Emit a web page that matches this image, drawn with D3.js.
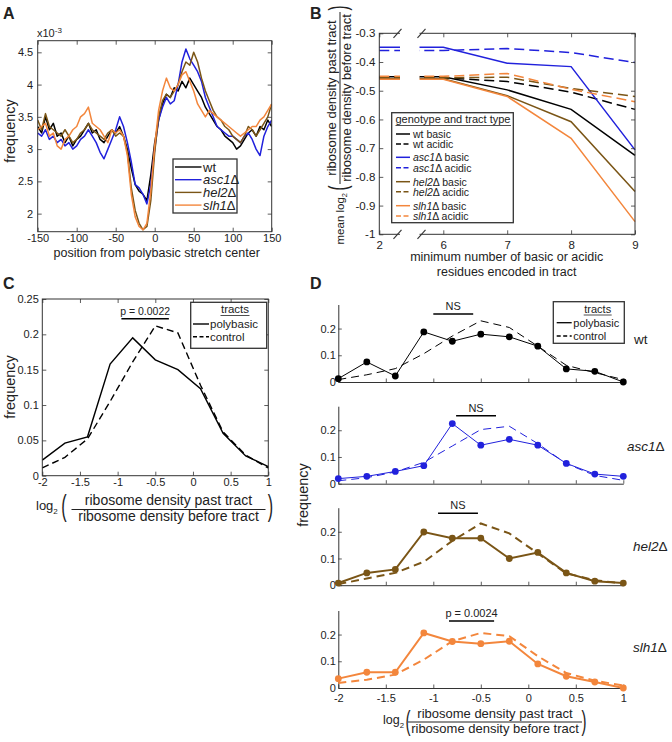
<!DOCTYPE html>
<html>
<head>
<meta charset="utf-8">
<script src="https://cdn.jsdelivr.net/npm/d3@7/dist/d3.min.js"></script>
<style>
html,body{margin:0;padding:0;background:#fff;}
svg{display:block;}
text{font-family:"Liberation Sans",Arial,Helvetica,sans-serif;fill:#222;}
</style>
</head>
<body>
<svg id="fig" width="672" height="742" xmlns="http://www.w3.org/2000/svg"></svg>
<script>
// ================= DATA =================
// Panel A: frequency (x10^-3) vs position from polybasic stretch center
const posA = d3.range(-150, 151, 5);
const freqWt   = [3.35,3.25,3.5,3.3,3.4,3.2,3.25,3.1,3.2,3.05, 3.15,3.2,3.3,3.4,3.25,3.3,3.15,3.1,3.2,3.3, 3.25,3.35,3.2,3.0,2.7,2.45,2.35,2.3,2.2,2.6, 3.1,3.45,3.7,3.85,3.8,3.95,3.9,4.05,3.95,4.1, 4.0,3.9,3.8,3.65,3.55,3.45,3.35,3.3,3.2,3.15, 3.1,3.0,3.05,3.15,3.25,3.3,3.2,3.35,3.3,3.45, 3.35];
const freqAsc1 = [3.25,3.2,3.3,3.15,3.2,3.1,3.15,3.05,3.1,3.0, 3.05,3.15,3.2,3.3,3.2,3.1,2.95,2.85,3.0,3.15, 3.3,3.5,3.35,3.1,2.8,2.45,2.4,2.3,2.15,2.45, 3.0,3.45,3.65,3.8,3.7,3.75,4.0,4.35,4.55,4.4, 4.3,4.2,4.05,3.8,3.65,3.5,3.35,3.3,3.25,3.2, 3.2,3.15,3.1,3.2,3.25,3.15,3.0,2.9,3.2,3.35, 3.45];
const freqHel2 = [3.45,3.3,3.55,3.35,3.3,3.25,3.2,3.3,3.2,3.1, 3.15,3.25,3.3,3.4,3.3,3.25,3.2,3.15,3.25,3.3, 3.2,3.25,3.2,2.95,2.4,2.05,1.85,1.75,1.8,2.2, 2.95,3.5,3.75,3.85,3.8,3.9,4.0,4.2,4.35,4.3, 4.5,4.35,4.1,3.9,3.75,3.6,3.5,3.45,3.35,3.3, 3.2,3.15,3.1,3.2,3.35,3.3,3.2,3.3,3.4,3.5, 3.7];
const freqSlh1 = [3.3,3.35,3.4,3.2,3.25,3.05,3.0,3.15,3.2,3.3, 3.35,3.5,3.55,3.65,3.4,3.35,3.3,3.2,3.1,3.3, 3.25,3.3,3.2,2.9,2.3,1.95,1.8,1.75,1.85,2.35, 3.05,3.6,3.9,4.1,3.95,3.9,4.0,4.15,4.2,4.05, 3.9,3.7,3.6,3.5,3.6,3.55,3.5,3.45,3.4,3.35, 3.3,3.25,3.2,3.25,3.3,3.35,3.35,3.45,3.5,3.6, 3.7];
const genotypes = ["wt", "asc1", "hel2", "slh1"];
const ticksAx = [-150,-100,-50,0,50,100,150];
const ticksAy = [2,2.5,3,3.5,4,4.5];

// Panel B: mean log2 ratio vs minimum number of residues
const minResidues = [2,6,7,8,9];
const bWtBasic    = [-0.451,-0.451,-0.497,-0.565,-0.725];
const bWtAcidic   = [-0.455,-0.455,-0.468,-0.505,-0.565];
const bAscBasic   = [-0.349,-0.349,-0.404,-0.416,-0.706];
const bAscAcidic  = [-0.360,-0.360,-0.353,-0.367,-0.402];
const bHelBasic   = [-0.458,-0.458,-0.517,-0.608,-0.851];
const bHelAcidic  = [-0.455,-0.455,-0.453,-0.492,-0.520];
const bSlhBasic   = [-0.460,-0.460,-0.520,-0.666,-0.956];
const bSlhAcidic  = [-0.450,-0.450,-0.440,-0.495,-0.538];
const ticksBy = [-0.3,-0.4,-0.5,-0.6,-0.7,-0.8,-0.9,-1];

// Panel C: distribution of log2 ratio
const binsC  = [-2,-1.7,-1.4,-1.1,-0.8,-0.5,-0.2,0.1,0.4,0.7,1.0];
const cPoly  = [0.022,0.046,0.055,0.158,0.195,0.164,0.150,0.123,0.060,0.028,0.013];
const cCtrl  = [0.011,0.026,0.052,0.105,0.161,0.212,0.202,0.128,0.062,0.029,0.011];
const ticksCx = [-2,-1.5,-1,-0.5,0,0.5,1];
const ticksCy = [0,0.05,0.1,0.15,0.2,0.25];
const pC = "p = 0.0022";
const barC = [-0.95,-0.32];

// Panel D: per-genotype distributions
const dWtPoly  = [0.0125,0.075,0.0225,0.1875,0.1525,0.179,0.169,0.134,0.049,0.040,0.0];
const dWtCtrl  = [0.009,0.027,0.050,0.106,0.172,0.229,0.204,0.134,0.0625,0.035,0.009];
const dAscPoly = [0.019,0.0275,0.046,0.0675,0.225,0.144,0.166,0.144,0.076,0.036,0.0275];
const dAscCtrl = [0.011,0.0225,0.044,0.080,0.141,0.2025,0.215,0.150,0.075,0.031,0.0125];
const dHelPoly = [0.008,0.046,0.059,0.199,0.176,0.176,0.100,0.1225,0.046,0.015,0.008];
const dHelCtrl = [0.004,0.025,0.046,0.0875,0.166,0.231,0.194,0.119,0.044,0.019,0.006];
const dSlhPoly = [0.035,0.059,0.059,0.206,0.174,0.166,0.175,0.090,0.044,0.0225,0.0];
const dSlhCtrl = [0.019,0.031,0.050,0.106,0.175,0.206,0.194,0.119,0.056,0.0275,0.009];
const dPtext = ["NS","NS","NS","p = 0.0024"];
const dBars  = [[-1.0,-0.58],[-0.76,-0.34],[-0.95,-0.53],[-0.835,-0.36]];
const ticksDy = [0,0.1,0.2];
const ticksDx = [-2,-1.5,-1,-0.5,0,0.5,1];

// ================= STYLE =================
const COL = {wt:"#000000", asc1:"#2121dc", hel2:"#7a5516", slh1:"#f3863c"};
const AXC = "#333";
const svg = d3.select("#fig");
svg.append("rect").attr("width",672).attr("height",742).attr("fill","#fff");

function txt(g, x, y, s, o={}) {
  const t = g.append("text").attr("x",x).attr("y",y).attr("font-size",o.fs||11)
    .attr("text-anchor",o.anchor||"start");
  if (o.weight) t.attr("font-weight",o.weight);
  if (o.style) t.attr("font-style",o.style);
  if (o.fill) t.style("fill",o.fill);
  if (s !== null) t.text(s);
  return t;
}
function geno(t, name, rest) {
  t.append("tspan").attr("font-style","italic").text(name);
  t.append("tspan").text(rest);
  return t;
}
function styleAxis(sel, fs) {
  sel.attr("font-family",null).attr("font-size",fs);
  sel.selectAll(".domain").remove();
  sel.selectAll(".tick line").attr("stroke",AXC).attr("stroke-width",0.8);
}
const fmt = d => String(d);
function boxAxes(g, x, y, xt, yt, o) {
  const xr = x.range(), yr = y.range();
  const L = xr[0], R = xr[xr.length-1], B = yr[0], T = yr[yr.length-1];
  const tl = o.tl || 4, fs = o.fs || 11;
  const b = g.append("g").attr("transform",`translate(0,${B})`)
    .call(d3.axisBottom(x).tickValues(xt).tickSizeInner(-tl).tickSizeOuter(0).tickPadding(o.xpad).tickFormat(fmt));
  const t = g.append("g").attr("transform",`translate(0,${T})`)
    .call(d3.axisTop(x).tickValues(xt).tickSizeInner(-tl).tickSizeOuter(0).tickFormat(""));
  const l = g.append("g").attr("transform",`translate(${L},0)`)
    .call(d3.axisLeft(y).tickValues(yt).tickSizeInner(-tl).tickSizeOuter(0).tickPadding(o.ypad).tickFormat(fmt));
  const r = g.append("g").attr("transform",`translate(${R},0)`)
    .call(d3.axisRight(y).tickValues(yt).tickSizeInner(-tl).tickSizeOuter(0).tickFormat(""));
  [b,t,l,r].forEach(a => styleAxis(a, fs));
  g.append("rect").attr("x",L).attr("y",T).attr("width",R-L).attr("height",B-T)
    .attr("fill","none").attr("stroke",AXC).attr("stroke-width",1);
  return {L,R,B,T};
}
function bigParen(g, ch, x, yc, h, fs) {
  const k = h / (0.94*fs);
  g.append("text").attr("transform",`translate(${x},${yc}) scale(1.15,${k})`)
    .attr("text-anchor","middle").attr("y",0.258*fs).attr("font-size",fs).text(ch);
}
function log2Label(g, lx, by, fs) {
  const t = g.append("text").attr("x",lx).attr("y",by).attr("font-size",fs);
  t.append("tspan").text("log");
  t.append("tspan").attr("font-size",fs*0.62).attr("dy",fs*0.28).text("2");
  return t;
}
function fraction(g, cx, ly, w, fs, num, den) {
  g.append("text").attr("x",cx).attr("y",ly-4.5).attr("font-size",fs).attr("text-anchor","middle").text(num);
  g.append("line").attr("x1",cx-w/2).attr("x2",cx+w/2).attr("y1",ly).attr("y2",ly)
    .attr("stroke","#222").attr("stroke-width",1);
  g.append("text").attr("x",cx).attr("y",ly+0.83*fs).attr("font-size",fs).attr("text-anchor","middle").text(den);
}
const NUM = "ribosome density past tract", DEN = "ribosome density before tract";

// ================= PANEL A =================
{
  const g = svg.append("g");
  txt(g, 3, 19, "A", {fs:16, weight:"bold"});
  const x = d3.scaleLinear().domain([-150,150]).range([37.7,271.7]);
  const y = d3.scaleLinear().domain([1.72,4.68]).range([231.7,40.7]);
  g.append("clipPath").attr("id","clipA").append("rect")
    .attr("x",37.7).attr("y",40.7).attr("width",234).attr("height",191);
  const line = d3.line().x((d,i)=>x(posA[i])).y(d=>y(d));
  const series = [freqWt, freqAsc1, freqHel2, freqSlh1];
  series.forEach((arr,i) => {
    g.append("path").attr("clip-path","url(#clipA)").attr("d",line(arr))
      .attr("fill","none").attr("stroke",COL[genotypes[i]]).attr("stroke-width",1.5)
      .attr("stroke-linejoin","round");
  });
  boxAxes(g, x, y, ticksAx, ticksAy, {fs:11, xpad:3, ypad:4.5});
  const e = txt(g, 37, 37, null, {fs:11});
  e.append("tspan").text("x10");
  e.append("tspan").attr("font-size",8).attr("dy",-4).text("-3");
  txt(g, 156.7, 257, "position from polybasic stretch center", {fs:12.5, anchor:"middle"});
  txt(g, 0, 0, "frequency", {fs:14.5, anchor:"middle"}).attr("transform","translate(15,131) rotate(-90)");
  // legend
  const lg = g.append("g");
  lg.append("rect").attr("x",173).attr("y",159).attr("width",64).attr("height",54)
    .attr("fill","#fff").attr("stroke",AXC).attr("stroke-width",1.3);
  genotypes.forEach((gn,i) => {
    const cy = 167 + i*12.7;
    lg.append("line").attr("x1",175).attr("x2",201.5).attr("y1",cy).attr("y2",cy)
      .attr("stroke",COL[gn]).attr("stroke-width",1.4);
    const t = txt(lg, 203, cy+4.5, null, {fs:13});
    if (gn === "wt") t.text("wt"); else geno(t, gn, "Δ");
  });
}

// ================= PANEL B =================
{
  const g = svg.append("g");
  txt(g, 310, 19, "B", {fs:16, weight:"bold"});
  const x = d3.scaleLinear().domain([2,6,9]).range([379.3,443.3,635]);
  const y = d3.scaleLinear().domain([-1,-0.3]).range([234.3,33.3]);
  const line = d3.line().x((d,i)=>x(minResidues[i])).y(d=>y(d));
  const defs = [
    [bWtBasic,"wt",false],[bWtAcidic,"wt",true],
    [bAscBasic,"asc1",false],[bAscAcidic,"asc1",true],
    [bHelBasic,"hel2",false],[bHelAcidic,"hel2",true],
    [bSlhBasic,"slh1",false],[bSlhAcidic,"slh1",true]];
  defs.forEach(([arr,gn,dash]) => {
    g.append("path").attr("d",line(arr)).attr("fill","none")
      .attr("stroke",COL[gn]).attr("stroke-width",1.5)
      .attr("stroke-dasharray",dash?"10,5":null);
  });
  const fr = boxAxes(g, x, y, minResidues, ticksBy, {fs:11.5, xpad:7, ypad:4});
  // axis break
  g.append("rect").attr("x",400).attr("y",fr.T-3).attr("width",19.5).attr("height",fr.B-fr.T+6).attr("fill","#fff");
  [fr.T, fr.B].forEach(yy => {
    [397.5, 421.5].forEach(xx => {
      g.append("line").attr("x1",xx-4).attr("x2",xx+4).attr("y1",yy+4.5).attr("y2",yy-4.5)
        .attr("stroke",AXC).attr("stroke-width",1.1);
    });
  });
  txt(g, 506.7, 261, "minimum number of basic or acidic", {fs:12.5, anchor:"middle"});
  txt(g, 506.7, 276, "residues encoded in tract", {fs:12.5, anchor:"middle"});
  // y label (rotated)
  const yl = g.append("g").attr("transform","translate(340,98) rotate(-90)");
  fraction(yl, 0, 0, 172, 13, NUM, DEN);
  bigParen(yl, "(", -90, 0, 24, 13);
  bigParen(yl, ")", 90, 0, 24, 13);
  const ml = yl.append("text").attr("x",-95).attr("y",4).attr("font-size",11.5).attr("text-anchor","end");
  ml.append("tspan").text("mean log");
  ml.append("tspan").attr("font-size",7.5).attr("dy",3).text("2");
  // legend
  const lg = g.append("g");
  lg.append("rect").attr("x",391.7).attr("y",112.7).attr("width",121.6).attr("height",110)
    .attr("fill","#fff").attr("stroke",AXC).attr("stroke-width",1.3);
  txt(lg, 395.5, 123, "genotype and tract type", {fs:11});
  lg.append("line").attr("x1",395.5).attr("x2",511).attr("y1",125.5).attr("y2",125.5).attr("stroke","#222").attr("stroke-width",0.8);
  const ys = [134,144,157.3,167.7,181.7,191.7,205.7,216];
  defs.forEach(([arr,gn,dash],i) => {
    lg.append("line").attr("x1",396).attr("x2",410).attr("y1",ys[i]).attr("y2",ys[i])
      .attr("stroke",COL[gn]).attr("stroke-width",1.5).attr("stroke-dasharray",dash?"5,2.5":null);
    const t = txt(lg, 413, ys[i]+3.8, null, {fs:10.5});
    const kind = dash ? " acidic" : " basic";
    if (gn === "wt") t.text("wt" + kind); else geno(t, gn, "Δ" + kind);
  });
}

// ================= PANEL C =================
{
  const g = svg.append("g");
  txt(g, 3, 289, "C", {fs:16, weight:"bold"});
  const x = d3.scaleLinear().domain([-2,1]).range([42.3,268.3]);
  const y = d3.scaleLinear().domain([0,0.25]).range([475.7,299]);
  const line = d3.line().x((d,i)=>x(binsC[i])).y(d=>y(d));
  g.append("path").attr("d",line(cCtrl)).attr("fill","none").attr("stroke","#000")
    .attr("stroke-width",1.4).attr("stroke-dasharray","7,4");
  g.append("path").attr("d",line(cPoly)).attr("fill","none").attr("stroke","#000").attr("stroke-width",1.4);
  boxAxes(g, x, y, ticksCx, ticksCy, {fs:11, xpad:2, ypad:3.5});
  // significance bar
  g.append("line").attr("x1",x(barC[0])).attr("x2",x(barC[1])).attr("y1",318.7).attr("y2",318.7)
    .attr("stroke","#000").attr("stroke-width",1.5);
  txt(g, (x(barC[0])+x(barC[1]))/2, 314.5, pC, {fs:10.5, anchor:"middle"});
  // legend
  const lg = g.append("g");
  lg.append("rect").attr("x",190.7).attr("y",302.3).attr("width",76).attr("height",46)
    .attr("fill","#fff").attr("stroke",AXC).attr("stroke-width",1.3);
  txt(lg, 235, 313, "tracts", {fs:11.5, anchor:"middle"});
  lg.append("line").attr("x1",220.5).attr("x2",249.5).attr("y1",315.5).attr("y2",315.5).attr("stroke","#222").attr("stroke-width",0.8);
  lg.append("line").attr("x1",193).attr("x2",209).attr("y1",324).attr("y2",324).attr("stroke","#000").attr("stroke-width",1.4);
  lg.append("line").attr("x1",193).attr("x2",209).attr("y1",336.7).attr("y2",336.7).attr("stroke","#000").attr("stroke-width",1.4).attr("stroke-dasharray","4,2.5");
  txt(lg, 210, 328, "polybasic", {fs:11.5});
  txt(lg, 210, 340.8, "control", {fs:11.5});
  txt(g, 0, 0, "frequency", {fs:14.5, anchor:"middle"}).attr("transform","translate(15,387) rotate(-90)");
  // x label
  log2Label(g, 36, 510, 13);
  bigParen(g, "(", 64, 508.5, 28, 14);
  fraction(g, 168.5, 509.5, 194, 14, NUM, DEN);
  bigParen(g, ")", 270.5, 508.5, 28, 14);
}

// ================= PANEL D =================
{
  const g = svg.append("g");
  txt(g, 310, 289, "D", {fs:16, weight:"bold"});
  const x = d3.scaleLinear().domain([-2,1]).range([338.3,623.3]);
  const bases = [382, 483.7, 585.2, 688];
  const polys = [dWtPoly, dAscPoly, dHelPoly, dSlhPoly];
  const ctrls = [dWtCtrl, dAscCtrl, dHelCtrl, dSlhCtrl];
  const lw = [1, 1, 2, 2];
  const labY = [339.3, 446, 546.7, 647.3];
  const labX = [634, 627, 633, 633];
  genotypes.forEach((gn, i) => {
    const y = d3.scaleLinear().domain([0,0.29]).range([bases[i], bases[i]-77.5]);
    const line = d3.line().x((d,j)=>x(binsC[j])).y(d=>y(d));
    // axes
    const ax = g.append("g").attr("transform",`translate(0,${bases[i]})`)
      .call(d3.axisBottom(x).tickValues(ticksDx).tickSizeInner(-3.5).tickSizeOuter(0).tickPadding(6)
        .tickFormat(i===3 ? fmt : ""));
    ax.attr("font-family",null).attr("font-size",11);
    ax.select(".domain").attr("stroke",AXC).attr("stroke-width",1);
    ax.selectAll(".tick line").attr("stroke",AXC).attr("stroke-width",0.8);
    const ay = g.append("g").attr("transform",`translate(338.3,0)`)
      .call(d3.axisLeft(y).tickValues(ticksDy).tickSizeInner(-3.5).tickSizeOuter(0).tickPadding(2.5).tickFormat(fmt));
    ay.attr("font-family",null).attr("font-size",11);
    ay.select(".domain").attr("stroke",AXC).attr("stroke-width",1);
    ay.selectAll(".tick line").attr("stroke",AXC).attr("stroke-width",0.8);
    // lines
    g.append("path").attr("d",line(ctrls[i])).attr("fill","none").attr("stroke",COL[gn])
      .attr("stroke-width",lw[i]).attr("stroke-dasharray","8,5");
    g.append("path").attr("d",line(polys[i])).attr("fill","none").attr("stroke",COL[gn])
      .attr("stroke-width",lw[i]);
    g.selectAll(null).data(polys[i]).enter().append("circle")
      .attr("cx",(d,j)=>x(binsC[j])).attr("cy",d=>y(d)).attr("r",3.4).attr("fill",COL[gn]);
    // significance
    const by = [314, 415.7, 513.3, 621][i];
    g.append("line").attr("x1",x(dBars[i][0])).attr("x2",x(dBars[i][1])).attr("y1",by).attr("y2",by)
      .attr("stroke","#000").attr("stroke-width",1.5);
    txt(g, (x(dBars[i][0])+x(dBars[i][1]))/2, by-4, dPtext[i], {fs:11, anchor:"middle"});
    // genotype label
    const t = txt(g, labX[i], labY[i]+4.5, null, {fs:13.5});
    if (gn === "wt") t.text("wt"); else geno(t, gn, "Δ");
  });
  // legend
  const lg = g.append("g");
  lg.append("rect").attr("x",553.3).attr("y",301.7).attr("width",71).attr("height",41.6)
    .attr("fill","#fff").attr("stroke",AXC).attr("stroke-width",1.3);
  txt(lg, 597.7, 312.5, "tracts", {fs:11, anchor:"middle"});
  lg.append("line").attr("x1",583.7).attr("x2",611.7).attr("y1",315).attr("y2",315).attr("stroke","#222").attr("stroke-width",0.8);
  lg.append("line").attr("x1",556.7).attr("x2",571.7).attr("y1",322.7).attr("y2",322.7).attr("stroke","#000").attr("stroke-width",1.3);
  lg.append("line").attr("x1",556.7).attr("x2",571.7).attr("y1",336).attr("y2",336).attr("stroke","#000").attr("stroke-width",1.3).attr("stroke-dasharray","4,2.5");
  txt(lg, 573.3, 326.5, "polybasic", {fs:11});
  txt(lg, 573.3, 340, "control", {fs:11});
  txt(g, 0, 0, "frequency", {fs:14.5, anchor:"middle"}).attr("transform","translate(308,495) rotate(-90)");
  // x label
  log2Label(g, 383, 724, 12.5);
  bigParen(g, "(", 408, 723, 26, 13);
  fraction(g, 495, 722, 174, 13, NUM, DEN);
  bigParen(g, ")", 584, 723, 26, 13);
}
</script>
</body>
</html>
